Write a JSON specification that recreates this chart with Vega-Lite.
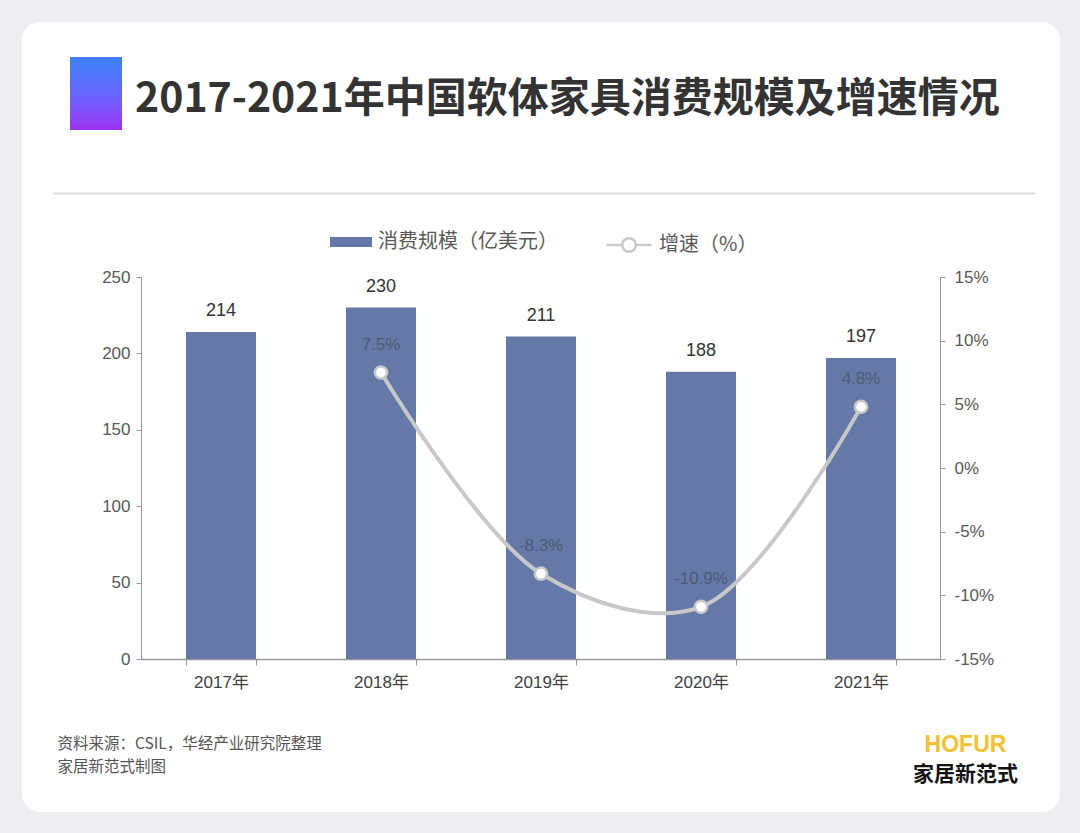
{
  "$schema": "https://vega.github.io/schema/vega-lite/v6.json",
  "width": 1038,
  "height": 790,
  "autosize": {"type": "none"},
  "padding": {"left": 22, "top": 22, "right": 20, "bottom": 21},
  "background": "#ededf2",
  "config": {
    "view": {"fill": "#ffffff", "stroke": null, "cornerRadius": 18},
    "font": "Noto Sans CJK SC"
  },
  "title": {
    "text": "2017-2021年中国软体家具消费规模及增速情况",
    "anchor": "start",
    "frame": "group",
    "orient": "top",
    "offset": -99,
    "dx": 113,
    "fontSize": 41,
    "fontWeight": "bold",
    "color": "#333333",
    "font": "Noto Sans CJK SC"
  },
  "data": {
    "values": [
      {"year": "2017年", "size": 214, "growth": null},
      {"year": "2018年", "size": 230, "growth": 7.5},
      {"year": "2019年", "size": 211, "growth": -8.3},
      {"year": "2020年", "size": 188, "growth": -10.9},
      {"year": "2021年", "size": 197, "growth": 4.8}
    ]
  },
  "resolve": {
    "scale": {"x": "independent", "y": "independent"},
    "axis": {"x": "independent", "y": "independent"}
  },
  "layer": [
    {
      "mark": {"type": "bar"},
      "encoding": {
        "x": {
          "field": "year", "type": "nominal", "sort": null,
          "scale": {"type": "band", "domain": ["2017年", "2018年", "2019年", "2020年", "2021年"], "range": [119, 919], "paddingInner": 0.5625, "paddingOuter": 0.28125},
          "axis": {
            "orient": "bottom", "offset": -153,
            "labelAngle": 0, "labelFontSize": 17, "labelColor": "#404040", "labelFont": "Liberation Sans, Noto Sans CJK SC", "labelPadding": 9,
            "tickBand": "extent", "tickSize": 6, "tickColor": "#999999", "domainColor": "#999999", "domainWidth": 1.5,
            "title": ["资料来源：CSIL，华经产业研究院整理", "家居新范式制图"],
            "titleX": 35, "titleY": 77, "titleAlign": "left", "titleBaseline": "top",
            "titleFontSize": 15.5, "titleFontWeight": "normal", "titleColor": "#555555", "titleLineHeight": 23, "titleFont": "Noto Sans CJK SC"
          }
        },
        "y": {
          "field": "size", "type": "quantitative",
          "scale": {"domain": [0, 250], "range": [637, 255], "nice": false},
          "axis": {
            "orient": "left", "offset": -119, "values": [0, 50, 100, 150, 200, 250], "grid": false,
            "tickSize": 5, "labelPadding": 6, "labelFontSize": 17, "labelColor": "#595959", "labelFont": "Liberation Sans",
            "domainColor": "#999999", "tickColor": "#999999",
            "title": "HOFUR", "titleAngle": 0, "titleX": 824, "titleY": 722, "titleAlign": "center", "titleBaseline": "middle",
            "titleFontSize": 23, "titleFontWeight": 900, "titleColor": "#f5c12e", "titleFont": "Liberation Sans"
          }
        },
        "fill": {
          "datum": "消费规模（亿美元）",
          "scale": {"range": ["#6479a8"]},
          "legend": {
            "orient": "none", "legendX": 308, "legendY": 199, "title": null, "padding": 0,
            "symbolType": "M-1,-0.24L1,-0.24L1,0.24L-1,0.24Z", "symbolSize": 1764, "symbolStrokeWidth": 0,
            "labelFontSize": 20, "labelColor": "#595959", "labelLimit": 400, "labelOffset": 6, "labelFont": "Noto Sans CJK SC"
          }
        }
      }
    },
    {
      "mark": {"type": "text", "baseline": "middle", "dy": -21, "fontSize": 18, "color": "#333333", "font": "Liberation Sans"},
      "encoding": {
        "x": {
          "field": "year", "type": "nominal", "sort": null,
          "scale": {"type": "band", "domain": ["2017年", "2018年", "2019年", "2020年", "2021年"], "range": [119, 919], "paddingInner": 0.5625, "paddingOuter": 0.28125},
          "axis": null
        },
        "y": {"field": "size", "type": "quantitative", "scale": {"domain": [0, 250], "range": [637, 255], "nice": false}, "axis": null},
        "text": {"field": "size", "type": "quantitative"}
      }
    },
    {
      "mark": {
        "type": "line", "interpolate": "catmull-rom", "strokeWidth": 4,
        "point": {"filled": true, "fill": "#ffffff", "size": 150, "strokeWidth": 2.5}
      },
      "encoding": {
        "x": {
          "field": "year", "type": "nominal", "sort": null,
          "scale": {"type": "point", "domain": ["2017年", "2018年", "2019年", "2020年", "2021年"], "range": [119, 919], "padding": 0.5},
          "axis": null
        },
        "y": {
          "field": "growth", "type": "quantitative",
          "scale": {"domain": [-15, 15], "range": [637, 255], "nice": false, "zero": false},
          "axis": {
            "orient": "right", "offset": -120, "values": [-15, -10, -5, 0, 5, 10, 15], "labelExpr": "datum.value + '%'", "grid": false,
            "tickSize": 5, "labelPadding": 9, "labelFontSize": 17, "labelColor": "#595959", "labelFont": "Liberation Sans",
            "domainColor": "#999999", "tickColor": "#999999",
            "title": "家居新范式", "titleAngle": 0, "titleX": 25, "titleY": 752, "titleAlign": "center", "titleBaseline": "middle",
            "titleFontSize": 21, "titleFontWeight": "bold", "titleColor": "#111111", "titleFont": "Noto Sans CJK SC"
          }
        },
        "stroke": {
          "datum": "增速（%）",
          "scale": {"range": ["#c8c8c8"]},
          "legend": {
            "orient": "none", "legendX": 583, "legendY": 199, "title": null, "padding": 0,
            "symbolType": "M-1,0L-0.3,0M0.3,0A0.3,0.3 0 1 1 -0.3,0A0.3,0.3 0 1 1 0.3,0M0.3,0L1,0", "symbolSize": 2025,
            "symbolStrokeWidth": 2.5, "symbolFillColor": "#ffffff",
            "labelFontSize": 20, "labelColor": "#595959", "labelLimit": 400, "labelOffset": 6, "labelFont": "Noto Sans CJK SC"
          }
        }
      }
    },
    {
      "transform": [
        {"filter": "datum.growth != null"},
        {"calculate": "datum.growth + '%'", "as": "label"}
      ],
      "mark": {"type": "text", "baseline": "middle", "dy": -28, "fontSize": 17, "color": "#4f5a75", "font": "Liberation Sans"},
      "encoding": {
        "x": {
          "field": "year", "type": "nominal", "sort": null,
          "scale": {"type": "point", "domain": ["2017年", "2018年", "2019年", "2020年", "2021年"], "range": [119, 919], "padding": 0.5},
          "axis": null
        },
        "y": {"field": "growth", "type": "quantitative", "scale": {"domain": [-15, 15], "range": [637, 255], "nice": false, "zero": false}, "axis": null},
        "text": {"field": "label", "type": "nominal"}
      }
    },
    {
      "mark": {"type": "point", "size": 0, "strokeWidth": 0, "filled": true, "opacity": 1},
      "encoding": {
        "x": {
          "field": "year", "type": "nominal", "sort": null,
          "scale": {"type": "point", "domain": ["2017年", "2018年", "2019年", "2020年", "2021年"], "range": [31, 1013], "padding": 0},
          "axis": {"orient": "top", "offset": -171, "domainColor": "#dcdcdc", "domainWidth": 2, "ticks": false, "labels": false, "title": null, "grid": false}
        },
        "y": {"field": "size", "type": "quantitative", "scale": {"domain": [0, 250], "range": [637, 255], "nice": false}, "axis": null},
        "color": {
          "field": "size", "type": "quantitative",
          "scale": {"domain": [0, 250], "range": ["#9b2ff1", "#3d82f7"]},
          "legend": {
            "orient": "none", "legendX": 48, "legendY": 35, "direction": "vertical", "title": null, "padding": 0,
            "gradientLength": 73, "gradientThickness": 52, "gradientStrokeWidth": 0, "gradientOpacity": 1,
            "labelExpr": "''", "labelOpacity": 0
          }
        }
      }
    }
  ]
}
